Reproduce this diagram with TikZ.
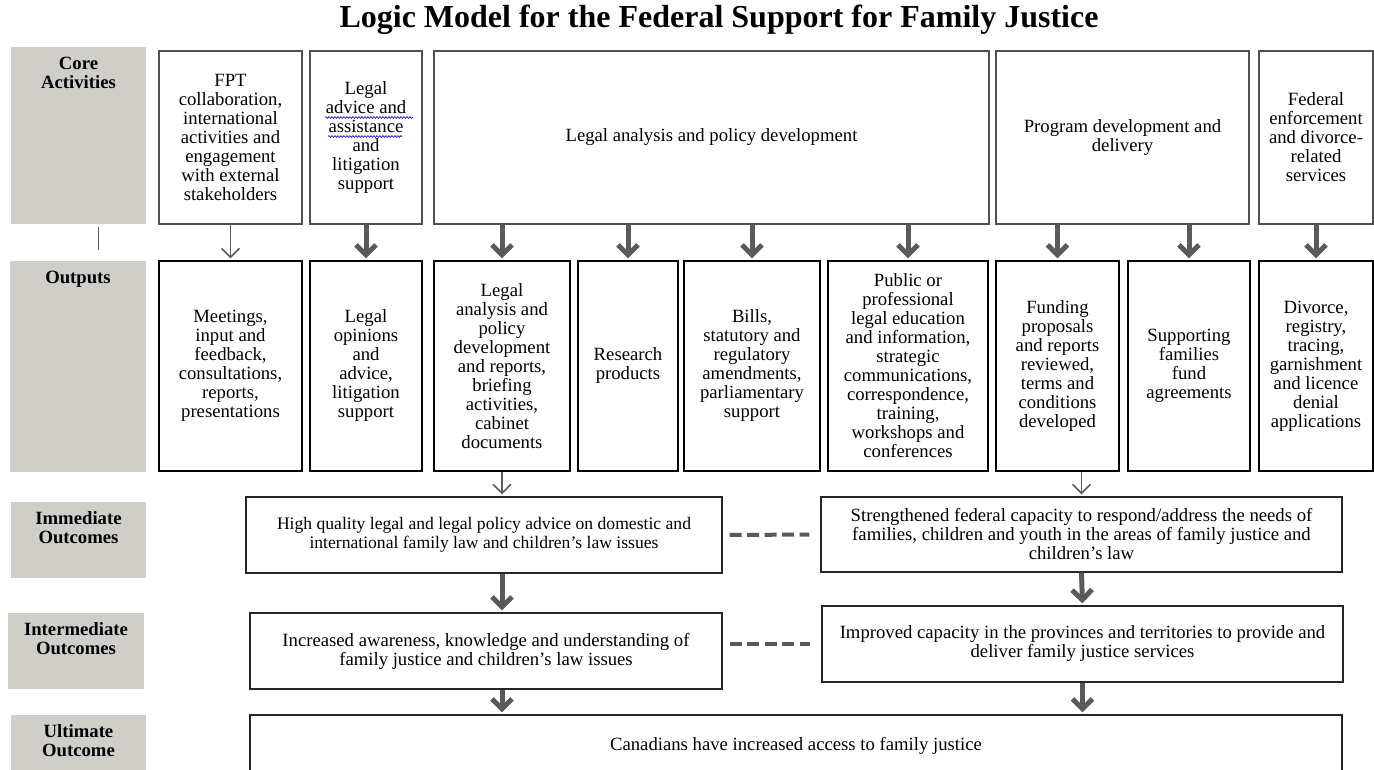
\documentclass[tikz,border=0pt]{standalone}
\usepackage{fontspec}
\setmainfont{Liberation Serif}
\usetikzlibrary{arrows.meta, decorations.pathmorphing}

\definecolor{lanegray}{RGB}{208,206,200}
\definecolor{arrowgray}{RGB}{90,90,90}
\definecolor{boxgray}{RGB}{80,80,80}

\begin{document}
\begin{tikzpicture}[x=1pt, y=-1pt,
    every node/.style={font=\fontsize{18.7}{19}\selectfont, align=center, inner sep=0pt},
    lane/.style={fill=lanegray, draw=none},
    lanetext/.style={font=\fontsize{18.7}{19}\selectfont\bfseries, anchor=north, inner sep=10pt},
    actbox/.style={draw=boxgray, line width=1.8pt},
    outbox/.style={draw=black, line width=1.3pt},
    resbox/.style={draw=black!85, line width=1.3pt},
    fat/.style={arrowgray, line width=5pt, shorten >=2pt, -{Straight Barb[length=10pt, width=20pt]}},
    slim/.style={arrowgray, line width=1.5pt, shorten >=2pt, -{Straight Barb[length=9pt, width=18pt]}},
    link/.style={arrowgray, line width=4pt, dash pattern=on 12pt off 5.5pt},
    squiggle/.style={blue!70!black, line width=0.6pt, decorate, decoration={snake, segment length=3pt, amplitude=0.9pt}}]
    \useasboundingbox (0, 0) rectangle (1374, 770);
    \clip (0, 0) rectangle (1374, 770);

    \node[font=\fontsize{32}{32}\selectfont\bfseries, anchor=base] (title) at (719, 28) {Logic Model for the Federal Support for Family Justice};

    % row labels
    \node[lane, minimum width=135, minimum height=177] (c1) at (78.5, 135.5) {};
    \node[lane, minimum width=136, minimum height=211] (c2) at (78, 366.5) {};
    \node[lane, minimum width=135, minimum height=76] (c3) at (78.5, 540) {};
    \node[lane, minimum width=136, minimum height=76] (c4) at (76, 651) {};
    \node[lane, minimum width=135, minimum height=61] (c5) at (78.5, 745.5) {};
    \node[lanetext] (l1) at (c1.north) {Core\\Activities};
    \node[lanetext] (l2) at (c2.north) {Outputs};
    \node[lanetext] (l3) at (c3.north) {Immediate\\Outcomes};
    \node[lanetext] (l4) at (c4.north) {Intermediate\\Outcomes};
    \node[lanetext] (l5) at (c5.north) {Ultimate\\Outcome};
    \draw[arrowgray, line width=1.2pt] ([xshift=20, yshift=-3]c1.south) -- ++(0, 23);

    % core activities
    \node[actbox, minimum width=143, minimum height=173] (a1) at (230.5, 137.5) {FPT\\collaboration,\\international\\activities and\\engagement\\with external\\stakeholders};
    \node[actbox, minimum width=112, minimum height=173] (a2) at (366, 137.5) {Legal\\advice and\\assistance\\and\\litigation\\support};
    \node[actbox, minimum width=555, minimum height=173] (a3) at (711.5, 137.5) {Legal analysis and policy development};
    \node[actbox, minimum width=253, minimum height=173] (a4) at (1122.5, 137.5) {Program development and\\delivery};
    \node[actbox, minimum width=114, minimum height=173] (a5) at (1316, 137.5) {Federal\\enforcement\\and divorce-\\related\\services};
    \draw[squiggle] ([xshift=-41, yshift=20]a2.center) -- ++(88, 0);
    \draw[squiggle] ([xshift=-38, yshift=1]a2.center) -- ++(74, 0);

    % outputs
    \node[outbox, minimum width=143, minimum height=210] (o1) at (230.5, 366) {Meetings,\\input and\\feedback,\\consultations,\\reports,\\presentations};
    \node[outbox, minimum width=112, minimum height=210] (o2) at (366, 366) {Legal\\opinions\\and\\advice,\\litigation\\support};
    \node[outbox, minimum width=136, minimum height=210] (o3) at (502, 366) {Legal\\analysis and\\policy\\development\\and reports,\\briefing\\activities,\\cabinet\\documents};
    \node[outbox, minimum width=100, minimum height=210] (o4) at (628, 366) {Research\\products};
    \node[outbox, minimum width=136, minimum height=210] (o5) at (752, 366) {Bills,\\statutory and\\regulatory\\amendments,\\parliamentary\\support};
    \node[outbox, minimum width=160, minimum height=210] (o6) at (908, 366) {Public or\\professional\\legal education\\and information,\\strategic\\communications,\\correspondence,\\training,\\workshops and\\conferences};
    \node[outbox, minimum width=123, minimum height=210] (o7) at (1057.5, 366) {Funding\\proposals\\and reports\\reviewed,\\terms and\\conditions\\developed};
    \node[outbox, minimum width=122, minimum height=210] (o8) at (1189, 366) {Supporting\\families\\fund\\agreements};
    \node[outbox, minimum width=114, minimum height=210] (o9) at (1316, 366) {Divorce,\\registry,\\tracing,\\garnishment\\and licence\\denial\\applications};

    \draw[slim] (a1.south) -- (o1.north);
    \draw[fat] (a2.south) -- (o2.north);
    \draw[fat] (a3.south -| o3.north) -- (o3.north);
    \draw[fat] (a3.south -| o4.north) -- (o4.north);
    \draw[fat] (a3.south -| o5.north) -- (o5.north);
    \draw[fat] (a3.south -| o6.north) -- (o6.north);
    \draw[fat] (a4.south -| o7.north) -- (o7.north);
    \draw[fat] (a4.south -| o8.north) -- (o8.north);
    \draw[fat] (a5.south) -- (o9.north);

    % outcomes
    \node[resbox, minimum width=476, minimum height=76, font=\fontsize{17.6}{19}\selectfont] (i1) at (484, 535) {High quality legal and legal policy advice on domestic and\\international family law and children’s law issues};
    \node[resbox, minimum width=521, minimum height=75] (i2) at (1081.5, 534.5) {Strengthened federal capacity to respond/address the needs of\\families, children and youth in the areas of family justice and\\children’s law};
    \node[resbox, minimum width=472, minimum height=76] (m1) at (486, 651) {Increased awareness, knowledge and understanding of\\family justice and children’s law issues};
    \node[resbox, minimum width=521, minimum height=76] (m2) at (1082.5, 644) {Improved capacity in the provinces and territories to provide and\\deliver family justice services};
    \node[resbox, minimum width=1092, minimum height=61] (u1) at (796, 745.5) {Canadians have increased access to family justice};

    \draw[slim] (o3.south) -- (o3.south |- i1.north);
    \draw[slim] (i2.north |- o7.south) -- (i2.north);
    \draw[fat] (i1.south -| o3.south) -- (m1.north -| o3.south);
    \draw[fat] (m1.south -| o3.south) -- (u1.north -| o3.south);
    \draw[fat] (i2.south) -- (m2.north);
    \draw[fat] (m2.south) -- (u1.north -| m2.south);
    \draw[link, shorten <=7pt, shorten >=11pt] (i1.east) -- (i2.west);
    \draw[link, shorten <=7pt, shorten >=11pt] (m2.west -| m1.east) -- (m2.west);
\end{tikzpicture}
\end{document}
